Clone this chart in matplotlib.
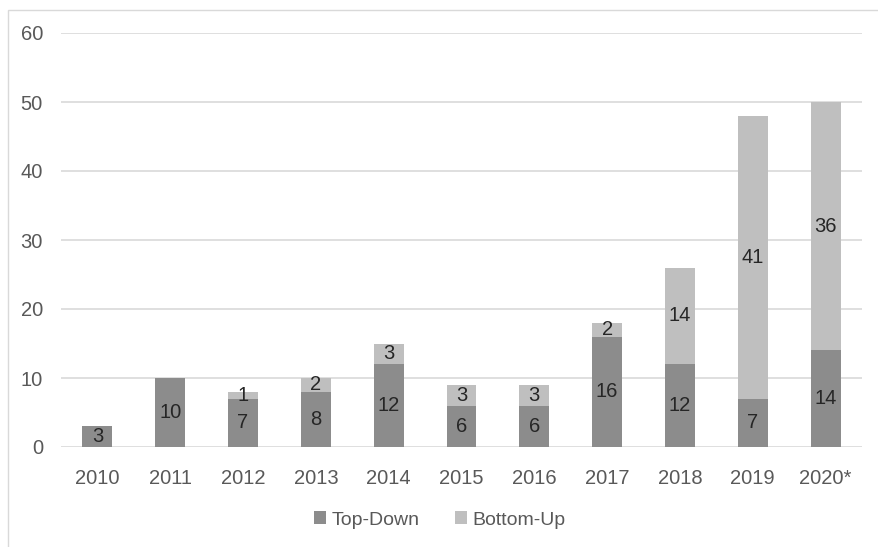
import numpy as np
import matplotlib.pyplot as plt
from matplotlib.patches import Rectangle

years = ['2010', '2011', '2012', '2013', '2014', '2015', '2016', '2017', '2018', '2019', '2020*']
top_down = [3, 10, 7, 8, 12, 6, 6, 16, 12, 7, 14]
bottom_up = [0, 0, 1, 2, 3, 3, 3, 2, 14, 41, 36]

plt.rcParams['font.family'] = ['Liberation Sans', 'DejaVu Sans']
txt = '#595959'

fig = plt.figure(figsize=(8.79, 5.47), dpi=100)
ax = fig.add_axes([61 / 879, 1 - 447 / 547, 801 / 879, 414 / 547])

x = np.arange(len(years))
w = 0.41
ax.bar(x, top_down, w, color='#8c8c8c', label='Top-Down', zorder=3)
ax.bar(x, bottom_up, w, bottom=top_down, color='#bfbfbf', label='Bottom-Up', zorder=3)

for i in range(len(years)):
    ax.text(x[i], top_down[i] / 2, str(top_down[i]), ha='center', va='center',
            fontsize=14.5, color='#262626', zorder=4)
    if bottom_up[i]:
        ax.text(x[i], top_down[i] + bottom_up[i] / 2, str(bottom_up[i]), ha='center',
                va='center', fontsize=14.5, color='#262626', zorder=4)

ax.set_xlim(-0.5, len(years) - 0.5)
ax.set_ylim(0, 60)
ax.set_yticks(range(0, 61, 10))
ax.set_xticks(x)
ax.set_xticklabels(years)
ax.grid(axis='y', color='#d9d9d9', linewidth=1.2, zorder=0)
for s in ax.spines.values():
    s.set_visible(False)
ax.tick_params(length=0, labelsize=14.5, colors=txt)
ax.tick_params(axis='y', pad=13)
ax.tick_params(axis='x', pad=16)

leg = fig.legend(loc='center', bbox_to_anchor=(440 / 879, 1 - 520 / 547), ncol=2,
                 frameon=False, fontsize=14, handlelength=0.6, handleheight=0.6,
                 handletextpad=0.3, columnspacing=1.8)
for t in leg.get_texts():
    t.set_color(txt)

fig.patches.append(Rectangle((8 / 879, -0.1), 1.2, 1 - 10 / 547 + 0.1, transform=fig.transFigure,
                             fill=False, edgecolor='#d9d9d9', linewidth=1))

fig.savefig('out.png', dpi=100)
